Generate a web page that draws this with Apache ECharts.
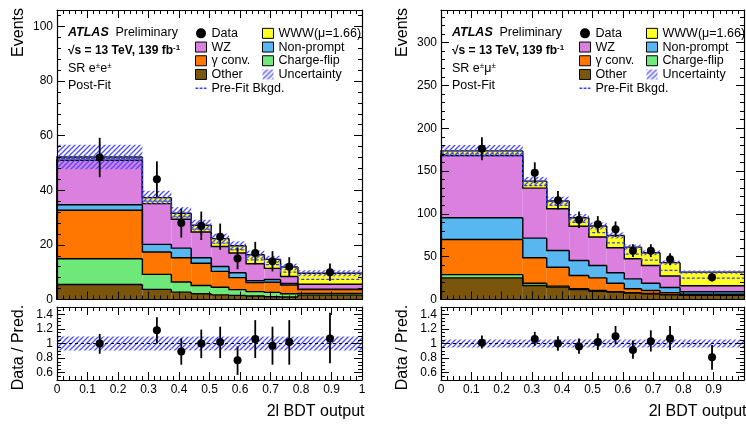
<!DOCTYPE html>
<html>
<head>
<meta charset="utf-8">
<script src="https://cdn.jsdelivr.net/npm/echarts@6/dist/echarts.min.js"></script>
<style>
  html, body { margin: 0; padding: 0; background: #fff; }
  #chart { width: 746px; height: 424px; }
</style>
</head>
<body>
<div id="chart"></div>
<script>
// ---------------- binning (2l BDT output) ----------------
const edgesEE = [0, 0.28, 0.375, 0.44, 0.506, 0.564, 0.62, 0.68, 0.733, 0.79, 1];
const edgesEM = [0, 0.27, 0.349, 0.423, 0.488, 0.547, 0.605, 0.662, 0.723, 0.789, 1];

// ---------------- SR e±e± : post-fit yields per bin ----------------
const otherEE      = [5.5, 3.7, 2.7, 2.1, 1.7, 1.5, 1.3, 1.0, 0.9, 1.6];
const chargeFlipEE = [9.4, 5.5, 3.7, 3.0, 2.8, 2.1, 1.6, 1.6, 1.2, 0.6];
const convEE       = [17.8, 8.2, 8.9, 8.2, 5.8, 4.4, 3.3, 3.7, 3.2, 1.4];
const nonPromptEE  = [2.0, 2.8, 3.5, 2.0, 1.8, 1.8, 0.7, 1.0, 0.6, 0.2];
const wzEE         = [16.3, 14.9, 10.6, 9.4, 7.3, 7.2, 6.2, 4.1, 2.5, 1.8];
const wwwEE        = [1.2, 2.2, 2.2, 2.5, 2.9, 2.7, 3.3, 3.3, 3.5, 4.0];
const uncEE        = [4.5, 2.5, 2.2, 2.0, 1.8, 1.6, 1.5, 1.3, 1.2, 1.1];
const prefitEE     = [51.6, 36.0, 30.3, 25.8, 20.6, 18.2, 14.5, 12.8, 10.0, 7.4];
const dataEE       = [52, 44, 28, 27, 23, 15, 17, 14, 12, 10];
const dataErrEE    = [7.2, 6.6, 5.3, 5.2, 4.8, 3.9, 4.1, 3.7, 3.5, 3.2];
const ratioEE      = [1.00, 1.18, 0.89, 1.00, 1.02, 0.77, 1.06, 0.97, 1.02, 1.07];
const ratioLoEE    = [0.86, 1.00, 0.71, 0.80, 0.80, 0.57, 0.80, 0.71, 0.71, 0.73];
const ratioHiEE    = [1.13, 1.36, 1.07, 1.19, 1.23, 0.96, 1.32, 1.23, 1.32, 1.42];
const ratioUncEE   = [0.095, 0.095, 0.095, 0.095, 0.095, 0.095, 0.095, 0.095, 0.095, 0.095];

// ---------------- SR e±μ± : post-fit yields per bin ----------------
const otherEM      = [25.3, 16.4, 14.4, 11.7, 9.7, 8.6, 7.4, 6.6, 5.5, 5.0];
const chargeFlipEM = [3.7, 2.6, 1.2, 0.8, 0.8, 0.6, 0.6, 0.4, 0.5, 0.3];
const convEM       = [41.0, 29.7, 22.1, 15.5, 14.8, 9.8, 4.5, 3.5, 2.0, 1.0];
const nonPromptEM  = [25.4, 22.9, 19.5, 17.5, 14.4, 12.2, 11.6, 8.5, 6.0, 2.7];
const wzEM         = [72.6, 58.4, 48.8, 40.0, 33.3, 29.2, 23.4, 20.7, 13.5, 7.0];
const wwwEM        = [5.5, 8.2, 9.0, 9.9, 12.8, 14.4, 13.6, 14.8, 15.5, 16.0];
const uncEM        = [7.0, 5.0, 5.0, 4.5, 4.0, 3.5, 3.0, 2.8, 2.5, 2.0];
const prefitEM     = [170, 133, 110, 90, 78, 66, 53, 46, 34, 25];
const dataEM       = [176, 148, 116, 93, 88, 82, 57, 57, 47, 26];
const dataErrEM    = [13.3, 12.2, 10.8, 9.6, 9.4, 9.1, 7.5, 7.5, 6.9, 5.1];
const ratioEM      = [1.01, 1.06, 1.00, 0.96, 1.02, 1.10, 0.91, 1.03, 1.07, 0.81];
const ratioLoEM    = [0.93, 0.97, 0.90, 0.86, 0.91, 0.99, 0.79, 0.89, 0.91, 0.64];
const ratioHiEM    = [1.11, 1.16, 1.10, 1.07, 1.14, 1.24, 1.04, 1.18, 1.24, 0.98];
const ratioUncEM   = [0.055, 0.055, 0.055, 0.055, 0.055, 0.055, 0.055, 0.055, 0.055, 0.055];

// ---------------- axis ticks ----------------
const xTicks     = [0, 0.1, 0.2, 0.3, 0.4, 0.5, 0.6, 0.7, 0.8, 0.9, 1];
const xLabelsEE  = [0, 0.1, 0.2, 0.3, 0.4, 0.5, 0.6, 0.7, 0.8, 0.9, 1];
const xLabelsEM  = [0, 0.1, 0.2, 0.3, 0.4, 0.5, 0.6, 0.7, 0.8, 0.9];
const yTicksEE   = [0, 20, 40, 60, 80, 100];
const yTicksEM   = [0, 50, 100, 150, 200, 250, 300];
const ratioTicks = [0.6, 0.8, 1, 1.2, 1.4];

function steps(from, to, step) {
  const out = [];
  for (let v = from; v <= to + 1e-9; v += step) out.push(+v.toFixed(4));
  return out;
}
const xMinor     = steps(0, 1, 0.02);
const yMinorEE   = steps(0, 104, 4);
const yMinorEM   = steps(0, 330, 10);
const ratioMinor = steps(0.5, 1.5, 0.05);

// ---------------- style ----------------
const FONT = '"Liberation Sans", Arial, Helvetica, sans-serif';
const COLORS = {
  other: '#7a560c', chargeFlip: '#6fe87a', conv: '#ff7700',
  nonPrompt: '#58b6f0', wz: '#dc80e0', www: '#ffff22',
  prefit: '#3a3aff'
};

function makeHatch(color, size) {
  const c = document.createElement('canvas');
  c.width = size; c.height = size;
  const g = c.getContext('2d');
  g.strokeStyle = color;
  g.lineWidth = 1.3;
  g.beginPath();
  g.moveTo(0, size); g.lineTo(size, 0);
  g.moveTo(-1, 1); g.lineTo(1, -1);
  g.moveTo(size - 1, size + 1); g.lineTo(size + 1, size - 1);
  g.stroke();
  return { image: c, repeat: 'repeat' };
}
const hatch = makeHatch('rgba(75,75,255,1)', 5);

// dashed-line legend marker for the pre-fit background
const dashIcon = 'path://M0,0h3v1.6h-3z M4.5,0h3v1.6h-3z M9,0h3v1.6h-3z';

// ---------------- layout containers ----------------
const grids = [], xAxes = [], yAxes = [], series = [], legends = [], graphics = [];

const labelStyle = { color: '#000', fontSize: 12, fontFamily: FONT };

function axis(gi, pos, min, max, vals, len, frame, labels, margin) {
  return {
    type: 'value', gridIndex: gi, position: pos, min: min, max: max, z: 10,
    axisLine: { show: frame, onZero: false, lineStyle: { color: '#000', width: 1.2 } },
    axisTick: { show: true, inside: true, length: len, customValues: vals,
                lineStyle: { color: '#000', width: 1 } },
    axisLabel: labels ? Object.assign({ show: true, customValues: labels, margin: margin }, labelStyle)
                      : { show: false },
    splitLine: { show: false },
    minorTick: { show: false },
    minorSplitLine: { show: false }
  };
}

function addFrame(box, yMin, yMax, yMajor, yMinor, xLabels) {
  const gi = grids.length;
  grids.push(Object.assign({ show: false, containLabel: false }, box));
  const xi = xAxes.length, yi = yAxes.length;
  xAxes.push(
    axis(gi, 'bottom', 0, 1, xTicks, 8, true, xLabels, 4),
    axis(gi, 'bottom', 0, 1, xMinor, 4, false, null),
    axis(gi, 'top', 0, 1, xTicks, 8, true, null),
    axis(gi, 'top', 0, 1, xMinor, 4, false, null)
  );
  yAxes.push(
    axis(gi, 'left', yMin, yMax, yMajor, 8, true, yMajor, 4),
    axis(gi, 'left', yMin, yMax, yMinor, 4, false, null),
    axis(gi, 'right', yMin, yMax, yMajor, 8, true, null),
    axis(gi, 'right', yMin, yMax, yMinor, 4, false, null)
  );
  return { xi: xi, yi: yi };
}

// filled step with its black outline
function stackRender(color) {
  return function (params, api) {
    const x0 = api.value(0), x1 = api.value(1), lo = api.value(2), hi = api.value(3), prev = api.value(4);
    const a = api.coord([x0, hi]), b = api.coord([x1, lo]);
    const c = api.coord([x0, prev]), d = api.coord([x1, hi]);
    return {
      type: 'group',
      children: [
        { type: 'rect', z2: 1,
          shape: { x: a[0], y: a[1], width: b[0] - a[0], height: b[1] - a[1] },
          style: { fill: color } },
        { type: 'polyline', z2: 20,
          shape: { points: [c, a, d] },
          style: { stroke: '#000', lineWidth: 1.4, fill: null } }
      ]
    };
  };
}

function bandRender(params, api) {
  const a = api.coord([api.value(0), api.value(3)]);
  const b = api.coord([api.value(1), api.value(2)]);
  return { type: 'rect', z2: 30,
    shape: { x: a[0], y: a[1], width: b[0] - a[0], height: b[1] - a[1] },
    style: { fill: hatch } };
}

function pointRender(params, api) {
  const x = api.value(0);
  const p = api.coord([x, api.value(1)]);
  const lo = api.coord([x, api.value(2)]);
  const hi = api.coord([x, api.value(3)]);
  return {
    type: 'group',
    children: [
      { type: 'line', z2: 40, shape: { x1: p[0], y1: lo[1], x2: p[0], y2: hi[1] },
        style: { stroke: '#000', lineWidth: 1.8 } },
      { type: 'circle', z2: 41, shape: { cx: p[0], cy: p[1], r: 4 }, style: { fill: '#000' } }
    ]
  };
}

function addPanel(P) {
  const main = addFrame(P.mainBox, 0, P.yMax, P.yTicks, P.yMinor, null);
  const ratio = addFrame(P.ratioBox, 0.5, 1.5, ratioTicks, ratioMinor, P.xLabels);
  const e = P.edges, n = P.data.length;
  const onMain = { xAxisIndex: main.xi, yAxisIndex: main.yi };
  const onRatio = { xAxisIndex: ratio.xi, yAxisIndex: ratio.yi };

  const layers = [
    { name: 'Other', color: COLORS.other, vals: P.other },
    { name: 'Charge-flip', color: COLORS.chargeFlip, vals: P.chargeFlip },
    { name: 'γ conv.', color: COLORS.conv, vals: P.conv },
    { name: 'Non-prompt', color: COLORS.nonPrompt, vals: P.nonPrompt },
    { name: 'WZ', color: COLORS.wz, vals: P.wz },
    { name: 'WWW(μ=1.66)', color: COLORS.www, vals: P.www }
  ];
  const base = new Array(n).fill(0);
  layers.forEach(function (L) {
    const tops = base.map(function (b, i) { return b + L.vals[i]; });
    const items = [];
    for (let i = 0; i < n; i++) {
      items.push([e[i], e[i + 1], base[i], tops[i], i === 0 ? 0 : tops[i - 1]]);
    }
    series.push(Object.assign({
      type: 'custom', name: L.name, coordinateSystem: 'cartesian2d',
      itemStyle: { color: L.color, borderColor: '#000', borderWidth: 1 },
      renderItem: stackRender(L.color), data: items, silent: true
    }, onMain));
    for (let i = 0; i < n; i++) base[i] = tops[i];
  });

  // total prediction uncertainty
  series.push(Object.assign({
    type: 'custom', name: 'Uncertainty', coordinateSystem: 'cartesian2d',
    itemStyle: { color: hatch }, renderItem: bandRender, silent: true,
    data: base.map(function (t, i) { return [e[i], e[i + 1], t - P.unc[i], t + P.unc[i]]; })
  }, onMain));

  // pre-fit background
  const pre = P.prefit.map(function (v, i) { return [e[i], v]; });
  pre.push([e[n], P.prefit[n - 1]]);
  series.push(Object.assign({
    type: 'line', name: 'Pre-Fit Bkgd.', step: 'end', symbol: 'none', z: 3, silent: true,
    lineStyle: { color: COLORS.prefit, width: 1.2, type: [3, 2] },
    itemStyle: { color: COLORS.prefit }, data: pre
  }, onMain));

  // data
  series.push(Object.assign({
    type: 'custom', name: 'Data', coordinateSystem: 'cartesian2d', z: 5, silent: true,
    itemStyle: { color: '#000' }, renderItem: pointRender,
    data: P.data.map(function (v, i) {
      return [(e[i] + e[i + 1]) / 2, v, v - P.dataErr[i], v + P.dataErr[i]];
    })
  }, onMain));

  // ratio panel
  series.push(Object.assign({
    type: 'custom', coordinateSystem: 'cartesian2d', silent: true, renderItem: bandRender,
    data: P.ratioUnc.map(function (u, i) { return [e[i], e[i + 1], 1 - u, 1 + u]; })
  }, onRatio));
  series.push(Object.assign({
    type: 'line', symbol: 'none', z: 4, silent: true,
    lineStyle: { color: '#000', width: 1, type: [3, 3] },
    data: [[0, 1], [1, 1]]
  }, onRatio));
  series.push(Object.assign({
    type: 'custom', coordinateSystem: 'cartesian2d', z: 5, silent: true, renderItem: pointRender,
    data: P.ratio.map(function (r, i) {
      return [(e[i] + e[i + 1]) / 2, r, P.ratioLo[i], P.ratioHi[i]];
    })
  }, onRatio));

  // legends
  const legendCommon = {
    orient: 'vertical', padding: 0, itemGap: 0, itemWidth: 11, itemHeight: 10,
    textStyle: { color: '#000', fontSize: 12.5, fontFamily: FONT, lineHeight: 13.7 },
    itemStyle: { borderColor: '#000', borderWidth: 1 },
    selectedMode: false
  };
  legends.push(Object.assign({}, legendCommon, {
    left: P.x0 + 138, top: 26.5,
    data: [
      { name: 'Data', icon: 'circle', itemStyle: { borderWidth: 0 } },
      { name: 'WZ', icon: 'rect' },
      { name: 'γ conv.', icon: 'rect' },
      { name: 'Other', icon: 'rect' },
      { name: 'Pre-Fit Bkgd.', icon: dashIcon, itemStyle: { color: COLORS.prefit, borderWidth: 0 } }
    ]
  }));
  legends.push(Object.assign({}, legendCommon, {
    left: P.x0 + 205, top: 26.5,
    data: [
      { name: 'WWW(μ=1.66)', icon: 'rect' },
      { name: 'Non-prompt', icon: 'rect' },
      { name: 'Charge-flip', icon: 'rect' },
      { name: 'Uncertainty', icon: 'rect', itemStyle: { borderWidth: 0 } }
    ]
  }));

  // labels
  const tx = P.x0 + 11;
  graphics.push(
    { type: 'text', x: tx, y: 33, style: {
        text: '{a|ATLAS}  {b|Preliminary}', verticalAlign: 'middle',
        rich: { a: { fontSize: 12.5, fontFamily: FONT, fontWeight: 'bold', fontStyle: 'italic', fill: '#000' },
                b: { fontSize: 12.5, fontFamily: FONT, fill: '#000' } } } },
    { type: 'text', x: tx, y: 51, style: {
        text: '{n|√s = 13 TeV, 139 fb}{s|-1}', verticalAlign: 'middle',
        rich: { n: { fontSize: 12, fontFamily: FONT, fontWeight: 'bold', fill: '#000', lineHeight: 15 },
                s: { fontSize: 8, fontFamily: FONT, fontWeight: 'bold', fill: '#000', verticalAlign: 'top' } } } },
    { type: 'text', x: tx, y: 69, style: {
        text: P.region, verticalAlign: 'middle',
        rich: { n: { fontSize: 12.5, fontFamily: FONT, fill: '#000', lineHeight: 15 },
                s: { fontSize: 8, fontFamily: FONT, fill: '#000', verticalAlign: 'top' } } } },
    { type: 'text', x: tx, y: 86, style: {
        text: 'Post-Fit', verticalAlign: 'middle', fontSize: 12.5, fontFamily: FONT, fill: '#000' } },
    { type: 'text', x: P.x0 - 38.5, y: 8, rotation: Math.PI / 2, style: {
        text: 'Events', align: 'right', verticalAlign: 'middle', fontSize: 16, fontFamily: FONT, fill: '#000' } },
    { type: 'text', x: P.x0 - 38.5, y: 347.5, rotation: Math.PI / 2, style: {
        text: 'Data / Pred.', align: 'center', verticalAlign: 'middle', fontSize: 16, fontFamily: FONT, fill: '#000' } },
    { type: 'text', x: P.x0 + P.width + 2.5, y: 412, style: {
        text: '2l BDT output', align: 'right', verticalAlign: 'middle', fontSize: 16, fontFamily: FONT, fill: '#000' } }
  );
}

addPanel({
  x0: 57, width: 305,
  mainBox: { left: 57, top: 10, width: 305, height: 289.5 },
  ratioBox: { left: 57, top: 307, width: 305, height: 73 },
  yMax: 106, yTicks: yTicksEE, yMinor: yMinorEE, xLabels: xLabelsEE,
  region: '{n|SR e}{s|±}{n|e}{s|±}',
  edges: edgesEE, other: otherEE, chargeFlip: chargeFlipEE, conv: convEE, nonPrompt: nonPromptEE,
  wz: wzEE, www: wwwEE, unc: uncEE, prefit: prefitEE, data: dataEE, dataErr: dataErrEE,
  ratio: ratioEE, ratioLo: ratioLoEE, ratioHi: ratioHiEE, ratioUnc: ratioUncEE
});
addPanel({
  x0: 441, width: 303,
  mainBox: { left: 441, top: 10, width: 303, height: 289.5 },
  ratioBox: { left: 441, top: 307, width: 303, height: 73 },
  yMax: 338, yTicks: yTicksEM, yMinor: yMinorEM, xLabels: xLabelsEM,
  region: '{n|SR e}{s|±}{n|μ}{s|±}',
  edges: edgesEM, other: otherEM, chargeFlip: chargeFlipEM, conv: convEM, nonPrompt: nonPromptEM,
  wz: wzEM, www: wwwEM, unc: uncEM, prefit: prefitEM, data: dataEM, dataErr: dataErrEM,
  ratio: ratioEM, ratioLo: ratioLoEM, ratioHi: ratioHiEM, ratioUnc: ratioUncEM
});

const chart = echarts.init(document.getElementById('chart'), null, { renderer: 'canvas' });
chart.setOption({
  animation: false,
  backgroundColor: '#fff',
  grid: grids,
  xAxis: xAxes,
  yAxis: yAxes,
  legend: legends,
  series: series,
  graphic: graphics
});
</script>
</body>
</html>
